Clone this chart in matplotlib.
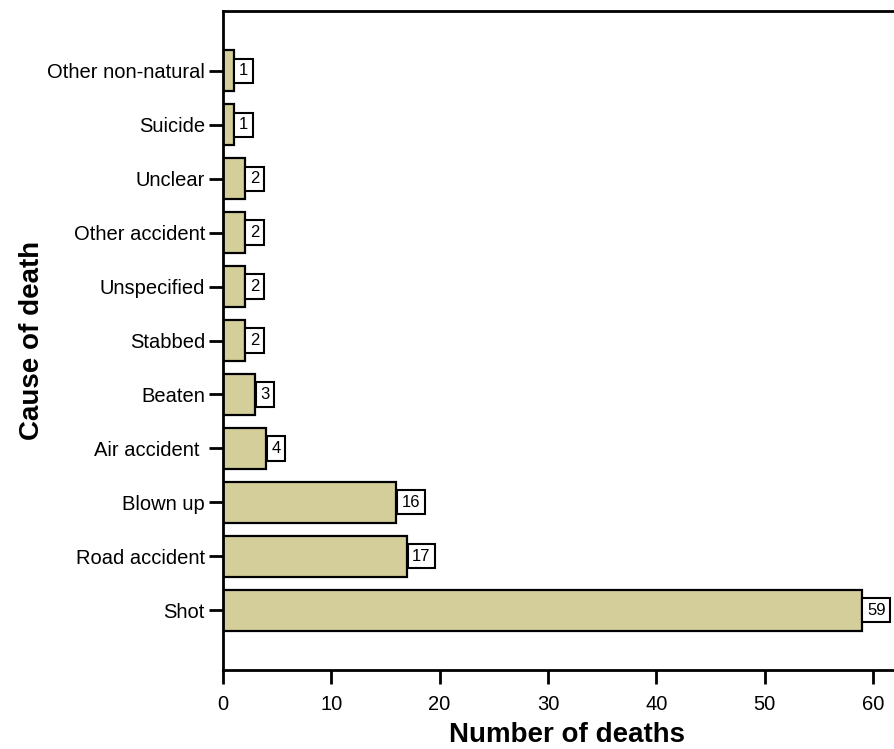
import matplotlib
matplotlib.use("Agg")
import matplotlib.pyplot as plt

categories = ["Shot", "Road accident", "Blown up", "Air accident ", "Beaten", "Stabbed",
              "Unspecified", "Other accident", "Unclear", "Suicide", "Other non-natural"]
deaths = [59, 17, 16, 4, 3, 2, 2, 2, 2, 1, 1]
xticks = [0, 10, 20, 30, 40, 50, 60]

plt.rcParams['font.family'] = ['Liberation Sans', 'DejaVu Sans']

fig = plt.figure(figsize=(8.95, 7.49), dpi=100)
ax = fig.add_axes([223/895, 79/749, 1 - 223/895, (670 - 11)/749])

y = list(range(len(categories)))
ax.barh(y, deaths, height=0.76, color='#d4cf9a', edgecolor='black', linewidth=1.6, zorder=2)

fs = 12
pad = 0.28
for yi, v in zip(y, deaths):
    ax.annotate(str(v), xy=(v, yi), xytext=(pad * fs + 0.3, 0), textcoords='offset points',
                ha='left', va='center', fontsize=fs, zorder=3,
                bbox=dict(boxstyle=f'square,pad={pad}', facecolor='white',
                          edgecolor='black', linewidth=1.5))

ax.set_xlim(0, 672/10.83)
ax.set_ylim(-1.11, len(categories) - 1 + 1.11)
ax.set_yticks(y)
ax.set_yticklabels(categories, fontsize=14.5)
ax.set_xticks(xticks)
ax.set_xticklabels([str(t) for t in xticks], fontsize=14.5)

ax.spines['right'].set_visible(False)
for s in ['left', 'top', 'bottom']:
    ax.spines[s].set_linewidth(2)
ax.tick_params(axis='both', width=2, length=10, direction='out', pad=3)
ax.tick_params(axis='x', pad=8)

ax.set_xlabel("Number of deaths", fontsize=20, fontweight='bold', va='center')
ax.xaxis.set_label_coords((567 - 223) / 672, (670 - 735) / 659)
ax.set_ylabel("Cause of death", fontsize=20, fontweight='bold', va='center')
ax.yaxis.set_label_coords((32 - 223) / 672, 0.5)

fig.savefig("out.png", dpi=100)
